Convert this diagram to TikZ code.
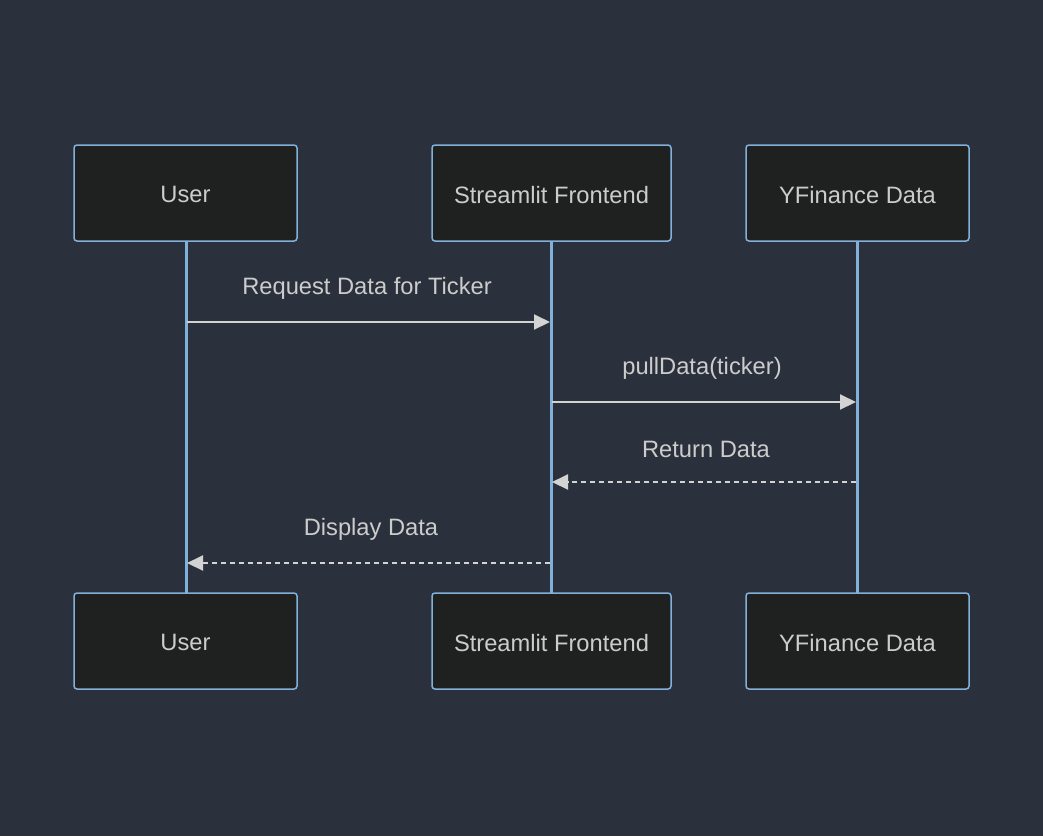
\documentclass[tikz,border=0pt]{standalone}
\usepackage{fontspec}
\setmainfont{Liberation Sans}
\usetikzlibrary{arrows.meta}
\definecolor{bgc}{HTML}{2A303C}
\definecolor{boxfill}{HTML}{1F2020}
\definecolor{boxline}{HTML}{81B1DB}
\definecolor{txt}{HTML}{CCCCCC}
\definecolor{msg}{HTML}{D3D3D3}
\tikzset{
  actor/.style={draw=boxline, fill=boxfill, line width=1.5pt, rounded corners=3pt,
    minimum height=96pt, inner sep=0pt},
  lifeline/.style={draw=boxline, line width=3pt},
  msgline/.style={draw=msg, line width=2pt, -{Triangle[length=16pt,width=15pt]}},
  reply/.style={msgline, dash pattern=on 5pt off 4pt},
  lbl/.style={text=txt, font=\fontsize{23.7}{28}\selectfont, inner sep=0pt}
}
\begin{document}
\begin{tikzpicture}[x=1pt,y=-1pt]
\fill[bgc] (0,0) rectangle (1043,836);
\useasboundingbox (0,0) rectangle (1043,836);
% lifelines
\coordinate (u1) at (186,241); \coordinate (u2) at (186,593);
\coordinate (s1) at (551,241); \coordinate (s2) at (551,593);
\coordinate (y1) at (857,241); \coordinate (y2) at (857,593);
\draw[lifeline] (u1) -- (u2);
\draw[lifeline] (s1) -- (s2);
\draw[lifeline] (y1) -- (y2);
% actors
\node[actor, minimum width=223pt] (ut) at (185.5,193) {};
\node[actor, minimum width=239pt] (st) at (551.5,193) {};
\node[actor, minimum width=223pt] (yt) at (857.5,193) {};
\node[actor, minimum width=223pt] (ub) at (185.5,641) {};
\node[actor, minimum width=239pt] (sb) at (551.5,641) {};
\node[actor, minimum width=223pt] (yb) at (857.5,641) {};
\node[lbl] (ut-t) at ([yshift=-1.8pt]ut.center) {User};
\node[lbl] (st-t) at ([yshift=-1.8pt]st.center) {Streamlit Frontend};
\node[lbl] (yt-t) at ([yshift=-1.8pt]yt.center) {YFinance Data};
\node[lbl] (ub-t) at ([yshift=-1.8pt]ub.center) {User};
\node[lbl] (sb-t) at ([yshift=-1.8pt]sb.center) {Streamlit Frontend};
\node[lbl] (yb-t) at ([yshift=-1.8pt]yb.center) {YFinance Data};
% messages
\coordinate (m1a) at (187,322); \coordinate (m1b) at (550,322);
\coordinate (m2a) at (552,402); \coordinate (m2b) at (856,402);
\coordinate (m3a) at (856,482); \coordinate (m3b) at (552,482);
\coordinate (m4a) at (550,563); \coordinate (m4b) at (187,563);
\draw[msgline] (m1a) -- (m1b);
\draw[msgline] (m2a) -- (m2b);
\draw[reply] (m3a) -- (m3b);
\draw[reply] (m4a) -- (m4b);
\node[lbl] (l1) at (367,288.5) {Request Data for Ticker};
\node[lbl] (l2) at (702,368.5) {pullData(ticker)};
\node[lbl] (l3) at (706,449) {Return Data};
\node[lbl] (l4) at (371,529.5) {Display Data};
\end{tikzpicture}
\end{document}
